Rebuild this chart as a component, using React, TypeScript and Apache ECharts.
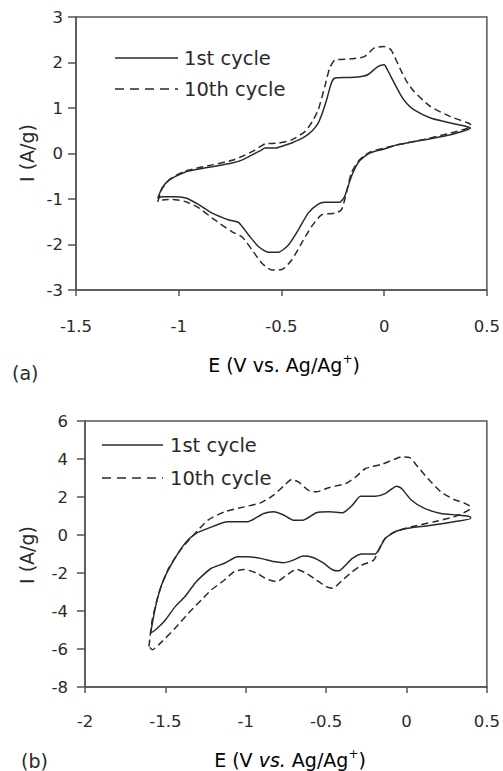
import React, { useEffect, useRef } from "react";
import * as echarts from "echarts";

// Panel (a): x = E (V vs Ag/Ag+), y = I (A/g)
const cycle1A: number[][] = [
  [-1.102, -0.98], [-1.08, -0.75], [-1.046, -0.58], [-1.0, -0.47], [-0.965, -0.4], [-0.9, -0.34],
  [-0.837, -0.29], [-0.74, -0.21], [-0.69, -0.14], [-0.643, -0.03], [-0.6, 0.07], [-0.58, 0.12],
  [-0.53, 0.12], [-0.49, 0.17], [-0.45, 0.23], [-0.386, 0.37], [-0.35, 0.5], [-0.321, 0.67],
  [-0.3, 0.9], [-0.28, 1.18], [-0.257, 1.55], [-0.24, 1.66], [-0.18, 1.67], [-0.128, 1.68],
  [-0.08, 1.73], [-0.031, 1.91], [0.0, 1.95], [0.015, 1.85], [0.033, 1.69], [0.08, 1.29],
  [0.11, 1.1], [0.146, 0.96], [0.226, 0.78], [0.323, 0.67], [0.403, 0.59], [0.42, 0.56],
  [0.323, 0.41], [0.194, 0.3], [0.065, 0.19], [0.0, 0.1], [-0.064, 0.02], [-0.1, -0.08],
  [-0.128, -0.21], [-0.16, -0.51], [-0.193, -0.95], [-0.217, -1.07], [-0.289, -1.07],
  [-0.321, -1.11], [-0.37, -1.31], [-0.418, -1.68], [-0.466, -2.01], [-0.514, -2.17],
  [-0.563, -2.17], [-0.611, -2.05], [-0.66, -1.79], [-0.708, -1.52], [-0.756, -1.46],
  [-0.837, -1.31], [-0.9, -1.13], [-0.965, -0.98], [-1.03, -0.95], [-1.078, -0.95], [-1.102, -0.98]
];

const cycle10A: number[][] = [
  [-1.102, -1.06], [-1.08, -0.76], [-1.046, -0.58], [-1.0, -0.45], [-0.965, -0.38], [-0.9, -0.31],
  [-0.837, -0.25], [-0.74, -0.15], [-0.69, -0.06], [-0.643, 0.04], [-0.6, 0.16], [-0.58, 0.21],
  [-0.514, 0.23], [-0.45, 0.3], [-0.386, 0.48], [-0.35, 0.7], [-0.321, 0.96], [-0.289, 1.47],
  [-0.265, 1.88], [-0.24, 2.05], [-0.16, 2.08], [-0.096, 2.13], [-0.048, 2.32], [0.0, 2.35],
  [0.033, 2.28], [0.08, 1.84], [0.11, 1.58], [0.146, 1.36], [0.226, 1.03], [0.323, 0.81],
  [0.403, 0.68], [0.42, 0.63], [0.42, 0.59], [0.323, 0.45], [0.194, 0.31], [0.065, 0.19],
  [0.0, 0.12], [-0.064, 0.04], [-0.1, -0.06], [-0.128, -0.18], [-0.16, -0.43], [-0.184, -0.87],
  [-0.208, -1.24], [-0.24, -1.31], [-0.305, -1.35], [-0.354, -1.61], [-0.402, -1.97],
  [-0.45, -2.34], [-0.498, -2.55], [-0.547, -2.56], [-0.595, -2.41], [-0.643, -2.12],
  [-0.69, -1.84], [-0.74, -1.72], [-0.837, -1.42], [-0.9, -1.2], [-0.965, -1.06], [-1.03, -1.01],
  [-1.078, -1.02], [-1.102, -1.06]
];

// Panel (b)
const cycle1B: number[][] = [
  [-1.592, -5.17], [-1.561, -3.77], [-1.52, -2.54], [-1.459, -1.49], [-1.378, -0.44],
  [-1.316, 0.05], [-1.235, 0.35], [-1.112, 0.7], [-0.99, 0.7], [-0.888, 1.13], [-0.827, 1.22],
  [-0.765, 1.05], [-0.704, 0.78], [-0.643, 0.78], [-0.561, 1.17], [-0.48, 1.22], [-0.398, 1.17],
  [-0.337, 1.57], [-0.286, 2.04], [-0.194, 2.04], [-0.133, 2.18], [-0.061, 2.57], [-0.031, 2.45],
  [0.031, 1.83], [0.112, 1.4], [0.214, 1.13], [0.316, 1.05], [0.398, 0.96], [0.398, 0.87],
  [0.296, 0.7], [0.133, 0.49], [0.01, 0.35], [-0.071, 0.17], [-0.133, -0.18], [-0.173, -0.79],
  [-0.194, -1.0], [-0.276, -1.0], [-0.337, -1.23], [-0.378, -1.58], [-0.418, -1.88],
  [-0.459, -1.84], [-0.52, -1.46], [-0.582, -1.18], [-0.643, -1.11], [-0.704, -1.32],
  [-0.765, -1.46], [-0.827, -1.4], [-0.908, -1.23], [-0.99, -1.14], [-1.051, -1.14],
  [-1.133, -1.49], [-1.214, -1.75], [-1.276, -2.19], [-1.316, -2.54], [-1.378, -3.24],
  [-1.439, -3.77], [-1.5, -4.47], [-1.561, -4.99], [-1.592, -5.17]
];

const cycle10B: number[][] = [
  [-1.602, -5.87], [-1.582, -4.47], [-1.541, -3.07], [-1.48, -1.75], [-1.398, -0.7],
  [-1.316, 0.08], [-1.235, 0.78], [-1.133, 1.22], [-1.01, 1.48], [-0.908, 1.69], [-0.827, 2.1],
  [-0.765, 2.57], [-0.714, 2.92], [-0.673, 2.8], [-0.612, 2.36], [-0.561, 2.27], [-0.48, 2.5],
  [-0.378, 2.71], [-0.316, 3.06], [-0.255, 3.5], [-0.153, 3.72], [-0.071, 4.0], [-0.031, 4.11],
  [0.02, 4.07], [0.071, 3.58], [0.133, 2.97], [0.214, 2.27], [0.296, 1.87], [0.357, 1.69],
  [0.398, 1.48], [0.398, 1.4], [0.296, 0.96], [0.173, 0.7], [0.031, 0.43], [-0.071, 0.17],
  [-0.133, -0.18], [-0.173, -0.79], [-0.204, -1.32], [-0.276, -1.58], [-0.337, -1.93],
  [-0.398, -2.37], [-0.459, -2.8], [-0.5, -2.72], [-0.561, -2.37], [-0.622, -2.02],
  [-0.684, -1.81], [-0.745, -2.1], [-0.806, -2.45], [-0.867, -2.33], [-0.929, -2.02],
  [-1.01, -1.81], [-1.071, -1.93], [-1.133, -2.37], [-1.214, -2.89], [-1.276, -3.42],
  [-1.357, -4.12], [-1.439, -4.9], [-1.52, -5.6], [-1.582, -6.04], [-1.602, -5.87]
];

const legendNames = ["1st cycle", "10th cycle"];
const xTitle = "E (V vs. Ag/Ag+)";
const yTitle = "I (A/g)";

const FONT = "DejaVu Sans";
const INK = "#2a2a2a";
const AX = "#555";

export default function App() {
  const ref = useRef<HTMLDivElement>(null);
  useEffect(() => {
    const chart = echarts.init(ref.current!, null, { renderer: "svg" });
    const axisCommon = {
      type: "value" as const,
      splitLine: { show: false },
      axisLine: { show: true, onZero: false, lineStyle: { color: AX, width: 1.5 } },
      axisTick: { show: true, lineStyle: { color: AX, width: 1.5 } },
      axisLabel: { color: INK, fontFamily: FONT, fontSize: 16.5 },
    };
    const lineSeries = (name: string, data: number[][], idx: number, dashed: boolean) => ({
      name,
      type: "line" as const,
      xAxisIndex: idx,
      yAxisIndex: idx,
      data,
      showSymbol: false,
      symbol: "none",
      smooth: 0.2,
      lineStyle: { color: INK, width: 1.5, type: dashed ? [7, 4] : "solid" },
    });
    const titleRich = {
      n: { fontFamily: FONT, fontSize: 19, color: INK, lineHeight: 24 },
      i: { fontFamily: FONT, fontSize: 19, color: INK, fontStyle: "italic", lineHeight: 24 },
      sup: { fontFamily: FONT, fontSize: 12, color: INK, verticalAlign: "top", lineHeight: 24, padding: [0, 0, 10, 0] },
    };
    const legend = (x0: number, x1: number, tx: number, y1: number, y2: number) => [
      { type: "line", shape: { x1: x0, y1: y1, x2: x1, y2: y1 }, style: { stroke: INK, lineWidth: 1.5 } },
      { type: "line", shape: { x1: x0, y1: y2, x2: x1, y2: y2 }, style: { stroke: INK, lineWidth: 1.5, lineDash: [9, 6] } },
      { type: "text", x: tx, y: y1, style: { text: legendNames[0], fontFamily: FONT, fontSize: 19.5, fill: INK, align: "left", verticalAlign: "middle" } },
      { type: "text", x: tx, y: y2, style: { text: legendNames[1], fontFamily: FONT, fontSize: 19.5, fill: INK, align: "left", verticalAlign: "middle" } },
    ];
    chart.setOption({
      animation: false,
      backgroundColor: "#fff",
      grid: [
        { left: 76, top: 17, width: 414, height: 273, show: true, borderColor: AX, borderWidth: 1.5, backgroundColor: "transparent" },
        { left: 85, top: 421, width: 408, height: 266, show: true, borderColor: AX, borderWidth: 1.5, backgroundColor: "transparent" },
      ],
      xAxis: [
        { ...axisCommon, gridIndex: 0, min: -1.5, max: 0.5, interval: 0.5, axisTick: { ...axisCommon.axisTick, length: 6 }, axisLabel: { ...axisCommon.axisLabel, margin: 28 } },
        { ...axisCommon, gridIndex: 1, min: -2, max: 0.5, interval: 0.5, axisTick: { ...axisCommon.axisTick, length: 6 }, axisLabel: { ...axisCommon.axisLabel, margin: 26 } },
      ],
      yAxis: [
        { ...axisCommon, gridIndex: 0, min: -3, max: 3, interval: 1, axisTick: { ...axisCommon.axisTick, length: 8 }, axisLabel: { ...axisCommon.axisLabel, margin: 13 } },
        { ...axisCommon, gridIndex: 1, min: -8, max: 6, interval: 2, axisTick: { ...axisCommon.axisTick, length: 8 }, axisLabel: { ...axisCommon.axisLabel, margin: 17 } },
      ],
      series: [
        lineSeries(legendNames[0], cycle1A, 0, false),
        lineSeries(legendNames[1], cycle10A, 0, true),
        lineSeries(legendNames[0], cycle1B, 1, false),
        lineSeries(legendNames[1], cycle10B, 1, true),
      ],
      graphic: [
        ...legend(115, 178, 184, 58, 89),
        ...legend(102, 163, 170, 445, 478),
        { type: "text", x: 27, y: 153, rotation: Math.PI / 2, style: { text: yTitle, fontFamily: FONT, fontSize: 19, fill: INK, align: "center", verticalAlign: "middle" } },
        { type: "text", x: 27, y: 555, rotation: Math.PI / 2, style: { text: yTitle, fontFamily: FONT, fontSize: 19, fill: INK, align: "center", verticalAlign: "middle" } },
        { type: "text", x: 284, y: 365, style: { text: "{n|E (V vs. Ag/Ag}{sup|+}{n|)}", rich: titleRich, align: "center", verticalAlign: "middle" } },
        { type: "text", x: 290, y: 760, style: { text: "{n|E (V }{i|vs.}{n| Ag/Ag}{sup|+}{n|)}", rich: titleRich, align: "center", verticalAlign: "middle" } },
        { type: "text", x: 12, y: 373, style: { text: "(a)", fontFamily: FONT, fontSize: 19, fill: INK, align: "left", verticalAlign: "middle" } },
        { type: "text", x: 21, y: 761, style: { text: "(b)", fontFamily: FONT, fontSize: 19, fill: INK, align: "left", verticalAlign: "middle" } },
      ],
    });
    return () => chart.dispose();
  }, []);
  return (
    <div
      ref={ref}
      data-xtitle={xTitle}
      style={{ position: "absolute", left: 0, top: 0, width: 503, height: 771, background: "#fff" }}
    />
  );
}
